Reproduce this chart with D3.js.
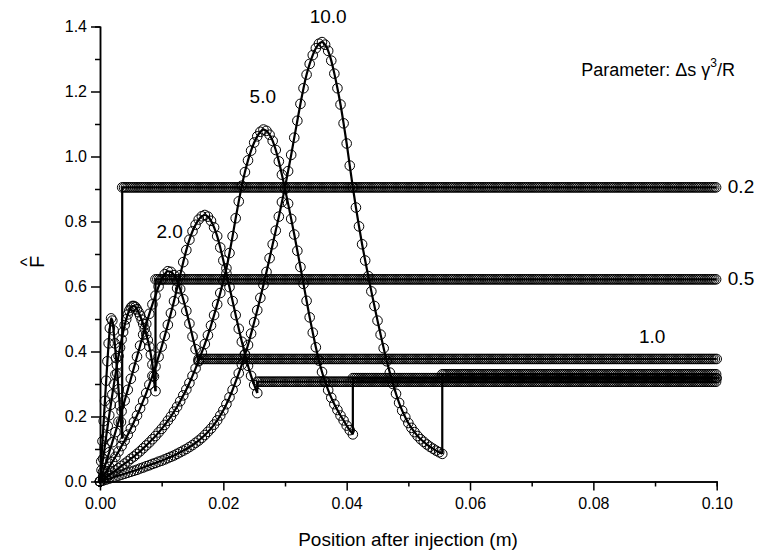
<!DOCTYPE html>
<html>
<head>
<meta charset="utf-8">
<script src="https://cdn.jsdelivr.net/npm/d3@7"></script>
<style>
  body { margin: 0; background: #fff; }
  text { font-family: "Liberation Sans", Arial, sans-serif; fill: #000; }
</style>
</head>
<body>
<svg id="chart" width="762" height="560"></svg>
<script>
// Parameter values (Δs γ³/R) of the six runs
const paramLabels = ["0.2", "0.5", "1.0", "2.0", "5.0", "10.0"];

// Sampling step along the beam line (m) for each run's transient
const sampleSteps = [0.0002, 0.00025, 0.0005, 0.0005, 0.0005, 0.0005];
// Sampling step used once the steady level is reached
const steadyStep = 0.0003;

// F-hat during the transient, one value per sample starting at x = 0
const fHat02 = [0, 0.062, 0.124, 0.186, 0.248, 0.31, 0.37, 0.425, 0.472, 0.502,
  0.495, 0.465, 0.425, 0.38, 0.333, 0.284, 0.234, 0.183, 0.132];
const fHat05 = [0, 0.035, 0.070, 0.104, 0.138, 0.171, 0.204, 0.236, 0.268, 0.299,
  0.329, 0.358, 0.386, 0.412, 0.437, 0.460, 0.481, 0.499, 0.514, 0.526,
  0.535, 0.540, 0.540, 0.537, 0.530, 0.521, 0.510, 0.498, 0.485, 0.470,
  0.453, 0.435, 0.415, 0.390, 0.360, 0.323, 0.278];
const fHat1 = [0, 0.030, 0.060, 0.090, 0.121, 0.152, 0.184, 0.216, 0.249, 0.282,
  0.316, 0.350, 0.384, 0.418, 0.452, 0.485, 0.516, 0.545, 0.572, 0.600,
  0.622, 0.638, 0.647, 0.645, 0.635, 0.617, 0.592, 0.561, 0.525, 0.486,
  0.446, 0.407, 0.370];
const fHat2 = [0, 0.015, 0.030, 0.045, 0.060, 0.076, 0.092, 0.109, 0.126, 0.144,
  0.163, 0.183, 0.203, 0.225, 0.248, 0.272, 0.298, 0.325, 0.354, 0.384,
  0.415, 0.448, 0.482, 0.518, 0.555, 0.595, 0.635, 0.675, 0.712, 0.744,
  0.770, 0.790, 0.806, 0.816, 0.820, 0.815, 0.802, 0.782, 0.755, 0.720,
  0.680, 0.640, 0.598, 0.555, 0.512, 0.470, 0.430, 0.392, 0.356, 0.325,
  0.297, 0.272];
const fHat5 = [0, 0.007, 0.013, 0.020, 0.027, 0.034, 0.041, 0.048, 0.055, 0.062,
  0.070, 0.077, 0.085, 0.093, 0.102, 0.111, 0.120, 0.130, 0.140, 0.151,
  0.162, 0.174, 0.187, 0.200, 0.215, 0.230, 0.247, 0.265, 0.283, 0.303,
  0.325, 0.348, 0.372, 0.397, 0.423, 0.450, 0.480, 0.512, 0.545, 0.580,
  0.617, 0.656, 0.703, 0.755, 0.810, 0.862, 0.910, 0.952, 0.988, 1.018,
  1.043, 1.062, 1.076, 1.083, 1.079, 1.067, 1.048, 1.020, 0.985, 0.944,
  0.900, 0.855, 0.808, 0.760, 0.710, 0.660, 0.608, 0.556, 0.505, 0.458,
  0.413, 0.372, 0.337, 0.307, 0.281, 0.258, 0.238, 0.220, 0.203, 0.188,
  0.172, 0.158, 0.145];
const fHat10 = [0, 0.003, 0.006, 0.009, 0.012, 0.015, 0.018, 0.021, 0.024, 0.027,
  0.030, 0.033, 0.036, 0.040, 0.043, 0.047, 0.050, 0.054, 0.057, 0.061,
  0.064, 0.068, 0.072, 0.076, 0.080, 0.085, 0.090, 0.095, 0.100, 0.106,
  0.112, 0.119, 0.126, 0.134, 0.143, 0.153, 0.163, 0.175, 0.188, 0.203,
  0.219, 0.238, 0.259, 0.282, 0.307, 0.333, 0.360, 0.390, 0.420, 0.455,
  0.490, 0.527, 0.565, 0.605, 0.645, 0.687, 0.730, 0.772, 0.815, 0.860,
  0.905, 0.955, 1.005, 1.058, 1.110, 1.162, 1.210, 1.252, 1.285, 1.312,
  1.333, 1.347, 1.352, 1.344, 1.325, 1.295, 1.255, 1.210, 1.160, 1.102,
  1.040, 0.972, 0.905, 0.843, 0.785, 0.730, 0.680, 0.632, 0.585, 0.540,
  0.495, 0.452, 0.410, 0.370, 0.335, 0.300, 0.270, 0.242, 0.218, 0.198,
  0.180, 0.165, 0.152, 0.140, 0.130, 0.122, 0.114, 0.107, 0.101, 0.095,
  0.090, 0.085];

// Steady-state F-hat reached after the jump
const steadyLevels = [0.905, 0.622, 0.377, 0.307, 0.318, 0.330];

// Axis ticks
const xMajorTicks = [0, 0.02, 0.04, 0.06, 0.08, 0.10];
const xMinorTicks = [0.01, 0.03, 0.05, 0.07, 0.09];
const yMajorTicks = [0, 0.2, 0.4, 0.6, 0.8, 1.0, 1.2, 1.4];
const yMinorTicks = [0.1, 0.3, 0.5, 0.7, 0.9, 1.1, 1.3];

const transients = [fHat02, fHat05, fHat1, fHat2, fHat5, fHat10];
const xEndOfLine = 0.1;

const svg = d3.select("#chart");
const x = d3.scaleLinear().domain([0, 0.1]).range([100, 716.7]);
const y = d3.scaleLinear().domain([0, 1.4]).range([481.5, 26.5]);

// Assemble each run: transient samples, then the steady level held to the end
const runs = transients.map((vals, k) => {
  const step = sampleSteps[k];
  const hump = vals.map((v, i) => [i * step, v]);
  const xJump = (vals.length - 1) * step;
  const level = steadyLevels[k];
  const steady = d3.range(xJump, xEndOfLine + steadyStep / 2, steadyStep)
    .map(t => [Math.min(t, xEndOfLine), level]);
  return { label: paramLabels[k], hump, steady, xJump, level, last: vals[vals.length - 1] };
});

const plot = svg.append("g");

// Open-circle markers
const markerGroup = plot.append("g")
  .attr("fill", "none").attr("stroke", "#000").attr("stroke-width", 1);
runs.forEach(r => {
  markerGroup.selectAll(null).data(r.steady).join("circle")
    .attr("cx", d => x(d[0])).attr("cy", d => y(d[1])).attr("r", 4.8);
  markerGroup.selectAll(null).data(r.hump).join("circle")
    .attr("cx", d => x(d[0])).attr("cy", d => y(d[1])).attr("r", 4.8);
});

// Solid lines through the samples
const smooth = d3.line().x(d => x(d[0])).y(d => y(d[1])).curve(d3.curveMonotoneX);
const straight = d3.line().x(d => x(d[0])).y(d => y(d[1]));
const lineGroup = plot.append("g")
  .attr("fill", "none").attr("stroke", "#000").attr("stroke-width", 2.2);
runs.forEach(r => {
  lineGroup.append("path").attr("d", smooth(r.hump));
  lineGroup.append("path").attr("d", straight([[r.xJump, r.last], [r.xJump, r.level], [xEndOfLine, r.level]]));
});

// Axes
function styleAxis(g) {
  g.select(".domain").attr("stroke", "#000").attr("stroke-width", 1.5);
  g.selectAll(".tick line").attr("stroke", "#000").attr("stroke-width", 1.5);
}
svg.append("g").attr("transform", `translate(0,${y(0)})`)
  .call(d3.axisBottom(x).tickValues(xMinorTicks).tickSize(5).tickFormat(""))
  .call(styleAxis);
svg.append("g").attr("transform", `translate(0,${y(0)})`)
  .call(d3.axisBottom(x).tickValues(xMajorTicks).tickSize(9).tickSizeOuter(0).tickPadding(7)
    .tickFormat(d3.format(".2f")))
  .call(styleAxis)
  .call(g => g.selectAll("text").attr("font-size", 16).attr("font-family", null));
svg.append("g").attr("transform", `translate(${x(0)},0)`)
  .call(d3.axisLeft(y).tickValues(yMinorTicks).tickSize(5).tickFormat(""))
  .call(styleAxis);
svg.append("g").attr("transform", `translate(${x(0)},0)`)
  .call(d3.axisLeft(y).tickValues(yMajorTicks).tickSize(9).tickSizeOuter(0).tickPadding(4)
    .tickFormat(d3.format(".1f")))
  .call(styleAxis)
  .call(g => g.selectAll("text").attr("font-size", 16).attr("font-family", null));

// Axis titles
svg.append("text").attr("x", 408).attr("y", 546).attr("text-anchor", "middle")
  .attr("font-size", 19).text("Position after injection (m)");
const yTitle = svg.append("g").attr("transform", "translate(44,262) rotate(-90)");
yTitle.append("text").attr("text-anchor", "middle").attr("font-size", 20).text("F");
yTitle.append("text").attr("text-anchor", "middle").attr("y", -11).attr("font-size", 18).text("^");

// Run labels
const labelSpots = [
  { text: "0.2", x: 0.1018, y: 0.888, anchor: "start" },
  { text: "0.5", x: 0.1018, y: 0.605, anchor: "start" },
  { text: "1.0", x: 0.0874, y: 0.425, anchor: "start" },
  { text: "2.0", x: 0.0113, y: 0.748, anchor: "middle" },
  { text: "5.0", x: 0.0264, y: 1.166, anchor: "middle" },
  { text: "10.0", x: 0.0370, y: 1.410, anchor: "middle" }
];
svg.append("g").selectAll("text").data(labelSpots).join("text")
  .attr("x", d => x(d.x)).attr("y", d => y(d.y)).attr("text-anchor", d => d.anchor)
  .attr("font-size", 19).text(d => d.text);

// Parameter legend
const legend = svg.append("text").attr("x", 735).attr("y", 76).attr("text-anchor", "end")
  .attr("font-size", 18);
legend.append("tspan").text("Parameter: Δs γ");
legend.append("tspan").attr("font-size", 12).attr("dy", -9).text("3");
legend.append("tspan").attr("dy", 9).text("/R");
</script>
</body>
</html>
